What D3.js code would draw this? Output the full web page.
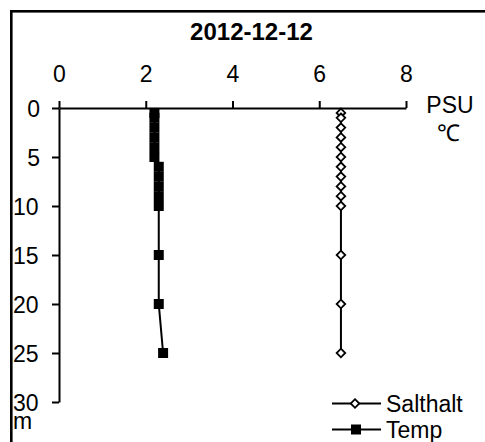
<!DOCTYPE html>
<html>
<head>
<meta charset="utf-8">
<script src="https://cdnjs.cloudflare.com/ajax/libs/d3/7.8.5/d3.min.js"></script>
<style>
  html, body { margin: 0; padding: 0; background: #fff; }
  svg { display: block; font-family: "Liberation Sans", Arial, sans-serif; }
</style>
</head>
<body>
<svg id="chart" width="485" height="442"></svg>
<script>
const title = "2012-12-12";
const depths = [0.5, 1, 2, 3, 4, 5, 6, 7, 8, 9, 10, 15, 20, 25];
const salthalt = [6.5, 6.5, 6.5, 6.5, 6.5, 6.5, 6.5, 6.5, 6.5, 6.5, 6.5, 6.5, 6.5, 6.5];
const temp = [2.2, 2.2, 2.2, 2.2, 2.2, 2.2, 2.3, 2.3, 2.3, 2.3, 2.3, 2.3, 2.3, 2.4];
const xTicks = [0, 2, 4, 6, 8];
const yTicks = [0, 5, 10, 15, 20, 25, 30];
const seriesNames = ["Salthalt", "Temp"];
const xUnitLabels = ["PSU", "℃"];
const yUnitLabel = "m";

const svg = d3.select("#chart");
const fs = 23;

// outer frame
svg.append("rect").attr("x", 11.3).attr("y", 11.3).attr("width", 600).attr("height", 600)
  .attr("fill", "none").attr("stroke", "#000").attr("stroke-width", 2.6);

const x = d3.scaleLinear().domain([0, 8]).range([59, 406]);
const y = d3.scaleLinear().domain([0, 30]).range([108, 402]);

// title
svg.append("text").attr("x", 251.5).attr("y", 40).attr("text-anchor", "middle")
  .attr("font-size", 24).attr("font-weight", "bold").text(title);

// top axis
const xAxis = d3.axisTop(x).tickValues(xTicks).tickSize(7).tickSizeOuter(0).tickPadding(19)
  .tickFormat(d3.format("d"));
const gx = svg.append("g").attr("transform", `translate(0,${y(0)})`).call(xAxis);
gx.select(".domain").attr("stroke-width", 2);
gx.selectAll(".tick line").attr("stroke-width", 2);
gx.selectAll(".tick text").attr("font-size", fs).attr("font-family", "Liberation Sans, Arial, sans-serif").attr("fill", "#000");

// left axis
const yAxis = d3.axisLeft(y).tickValues(yTicks).tickSize(7).tickSizeOuter(0).tickFormat(d3.format("d"));
const gy = svg.append("g").attr("transform", `translate(${x(0)},0)`).call(yAxis);
gy.select(".domain").attr("stroke-width", 2);
gy.selectAll(".tick line").attr("stroke-width", 2);
gy.selectAll(".tick text").attr("font-size", fs).attr("font-family", "Liberation Sans, Arial, sans-serif")
  .attr("fill", "#000").attr("dy", "0.35em")
  .each(function(d) {
    const t = d3.select(this);
    if (String(d).length > 1) { t.attr("text-anchor", "start").attr("x", 13 - x(0)); }
    else { t.attr("text-anchor", "end").attr("x", 40 - x(0)); }
  });

// unit labels
svg.append("text").attr("x", 450).attr("y", 113).attr("text-anchor", "middle").attr("font-size", fs).text(xUnitLabels[0]);
svg.append("text").attr("x", 448).attr("y", 141).attr("text-anchor", "middle").attr("font-size", fs).text(xUnitLabels[1]);
svg.append("text").attr("x", 13).attr("y", 428.5).attr("font-size", fs).text(yUnitLabel);

const line = d3.line().x(d => x(d.v)).y(d => y(d.d));
const salData = depths.map((d, i) => ({ d, v: salthalt[i] }));
const tempData = depths.map((d, i) => ({ d, v: temp[i] }));

const diamond = (cx, cy, r) => `M${cx},${cy - r}L${cx + r},${cy}L${cx},${cy + r}L${cx - r},${cy}Z`;

svg.append("path").datum(salData).attr("d", line).attr("fill", "none").attr("stroke", "#000").attr("stroke-width", 2);
svg.append("g").selectAll("path").data(salData).join("path")
  .attr("d", p => diamond(x(p.v), y(p.d), 4.3))
  .attr("fill", "#fff").attr("stroke", "#000").attr("stroke-width", 1.8);

svg.append("path").datum(tempData).attr("d", line).attr("fill", "none").attr("stroke", "#000").attr("stroke-width", 2);
svg.append("g").selectAll("rect").data(tempData).join("rect")
  .attr("x", p => x(p.v) - 5).attr("y", p => y(p.d) - 5).attr("width", 10).attr("height", 10)
  .attr("fill", "#000");

// legend
const legY = [403.5, 429.5];
seriesNames.forEach((name, i) => {
  const g = svg.append("g");
  g.append("line").attr("x1", 332).attr("x2", 381).attr("y1", legY[i]).attr("y2", legY[i])
    .attr("stroke", "#000").attr("stroke-width", 2);
  if (i === 0) {
    g.append("path").attr("d", diamond(355, legY[i], 4.3)).attr("fill", "#fff").attr("stroke", "#000").attr("stroke-width", 1.8);
  } else {
    g.append("rect").attr("x", 351).attr("y", legY[i] - 5).attr("width", 10).attr("height", 10).attr("fill", "#000");
  }
  g.append("text").attr("x", 386).attr("y", legY[i] + 8.2).attr("font-size", fs).text(name);
});
</script>
</body>
</html>
